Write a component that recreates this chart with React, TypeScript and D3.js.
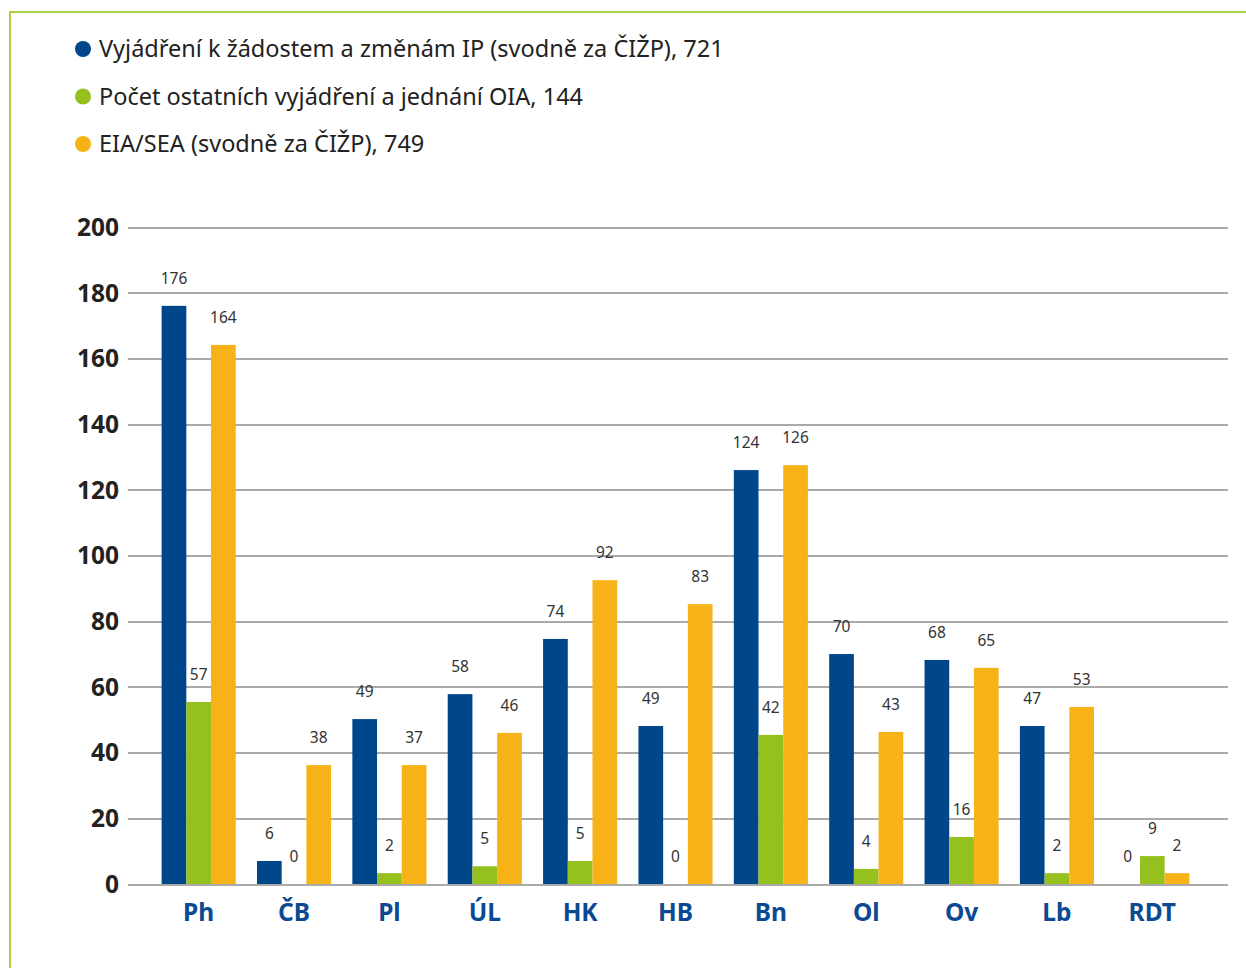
import { useEffect, useRef } from 'react';
import * as d3 from 'd3';

const categories = ['Ph', 'ČB', 'Pl', 'ÚL', 'HK', 'HB', 'Bn', 'Ol', 'Ov', 'Lb', 'RDT'];

const seriesNames = [
  'Vyjádření k žádostem a změnám IP (svodně za ČIŽP), 721',
  'Počet ostatních vyjádření a jednání OIA, 144',
  'EIA/SEA (svodně za ČIŽP), 749',
];

// bar heights as drawn in the picture
const ipValues = [176, 7, 50.2, 57.8, 74.6, 48.1, 126, 70, 68.2, 48.1, 0];
const oiaValues = [55.4, 0, 3.3, 5.4, 7, 0, 45.4, 4.6, 14.3, 3.3, 8.5];
const eiaValues = [164.1, 36.2, 36.2, 46, 92.5, 85.2, 127.5, 46.3, 65.8, 53.9, 3.3];

// printed value labels
const ipLabels = [176, 6, 49, 58, 74, 49, 124, 70, 68, 47, 0];
const oiaLabels = [57, 0, 2, 5, 5, 0, 42, 4, 16, 2, 9];
const eiaLabels = [164, 38, 37, 46, 92, 83, 126, 43, 65, 53, 2];

const yTicks = [0, 20, 40, 60, 80, 100, 120, 140, 160, 180, 200];

const colors = ['#00468b', '#95c11f', '#f7b217'];

const width = 1246;
const height = 968;

export default function App() {
  const svgRef = useRef<SVGSVGElement | null>(null);

  useEffect(() => {
    if (!svgRef.current) return;
    const svg = d3.select(svgRef.current);
    svg.selectAll('*').remove();

    const font = "'Noto Sans', 'Open Sans', sans-serif";

    // frame
    svg.append('path')
      .attr('d', `M10,${height} L10,12 L${width},12`)
      .attr('fill', 'none')
      .attr('stroke', '#a9d046')
      .attr('stroke-width', 2);

    // legend
    const legend = svg.append('g');
    seriesNames.forEach((name, i) => {
      const cy = 49 + i * 47.5;
      legend.append('circle')
        .attr('cx', 83)
        .attr('cy', cy)
        .attr('r', 8)
        .attr('fill', colors[i]);
      legend.append('text')
        .attr('x', 99)
        .attr('y', cy)
        .attr('dy', '0.35em')
        .attr('font-family', font)
        .attr('font-size', 23.5)
        .attr('fill', '#222')
        .text(name);
    });

    const y = d3.scaleLinear().domain([0, 200]).range([884, 227]);

    const x0 = d3.scaleBand<string>()
      .domain(categories)
      .range([151, 1200])
      .paddingInner(0.223)
      .paddingOuter(0.1115);

    const x1 = d3.scaleBand<number>()
      .domain([0, 1, 2])
      .range([0, x0.bandwidth()]);

    // gridlines
    const grid = svg.append('g')
      .attr('transform', 'translate(128,0)')
      .call(d3.axisLeft(y).tickValues(yTicks).tickSize(-1100).tickFormat(() => ''));
    grid.select('.domain').remove();
    grid.selectAll('line')
      .attr('stroke', '#aaaaaa')
      .attr('stroke-width', 2)
      .attr('shape-rendering', 'crispEdges');

    // y labels
    svg.append('g')
      .selectAll('text')
      .data(yTicks)
      .enter()
      .append('text')
      .attr('x', 119)
      .attr('y', d => y(d))
      .attr('dy', '0.36em')
      .attr('text-anchor', 'end')
      .attr('font-family', font)
      .attr('font-weight', 'bold')
      .attr('font-size', 24.5)
      .attr('fill', '#222')
      .text(d => d);

    const values = [ipValues, oiaValues, eiaValues];
    const labels = [ipLabels, oiaLabels, eiaLabels];

    const groups = svg.append('g')
      .selectAll('g')
      .data(categories)
      .enter()
      .append('g')
      .attr('transform', d => `translate(${x0(d)},0)`);

    groups.selectAll('rect')
      .data((_, ci) => values.map((v, si) => ({ si, v: v[ci] })))
      .enter()
      .append('rect')
      .attr('x', d => x1(d.si) as number)
      .attr('y', d => y(d.v))
      .attr('width', x1.bandwidth())
      .attr('height', d => y(0) - y(d.v))
      .attr('fill', d => colors[d.si]);

    groups.selectAll('text.val')
      .data((_, ci) => values.map((v, si) => ({ si, v: v[ci], l: labels[si][ci] })))
      .enter()
      .append('text')
      .attr('class', 'val')
      .attr('x', d => (x1(d.si) as number) + x1.bandwidth() / 2)
      .attr('y', d => y(d.v) - 22)
      .attr('text-anchor', 'middle')
      .attr('font-family', font)
      .attr('font-size', 15.5)
      .attr('fill', '#333')
      .text(d => d.l);

    // category labels
    svg.append('g')
      .selectAll('text')
      .data(categories)
      .enter()
      .append('text')
      .attr('x', d => (x0(d) as number) + x0.bandwidth() / 2)
      .attr('y', 921)
      .attr('text-anchor', 'middle')
      .attr('font-family', font)
      .attr('font-weight', 'bold')
      .attr('font-size', 24.5)
      .attr('fill', '#0b4a92')
      .text(d => d);
  }, []);

  return (
    <svg
      ref={svgRef}
      width={width}
      height={height}
      style={{ position: 'absolute', left: 0, top: 0, background: '#fff' }}
    />
  );
}
